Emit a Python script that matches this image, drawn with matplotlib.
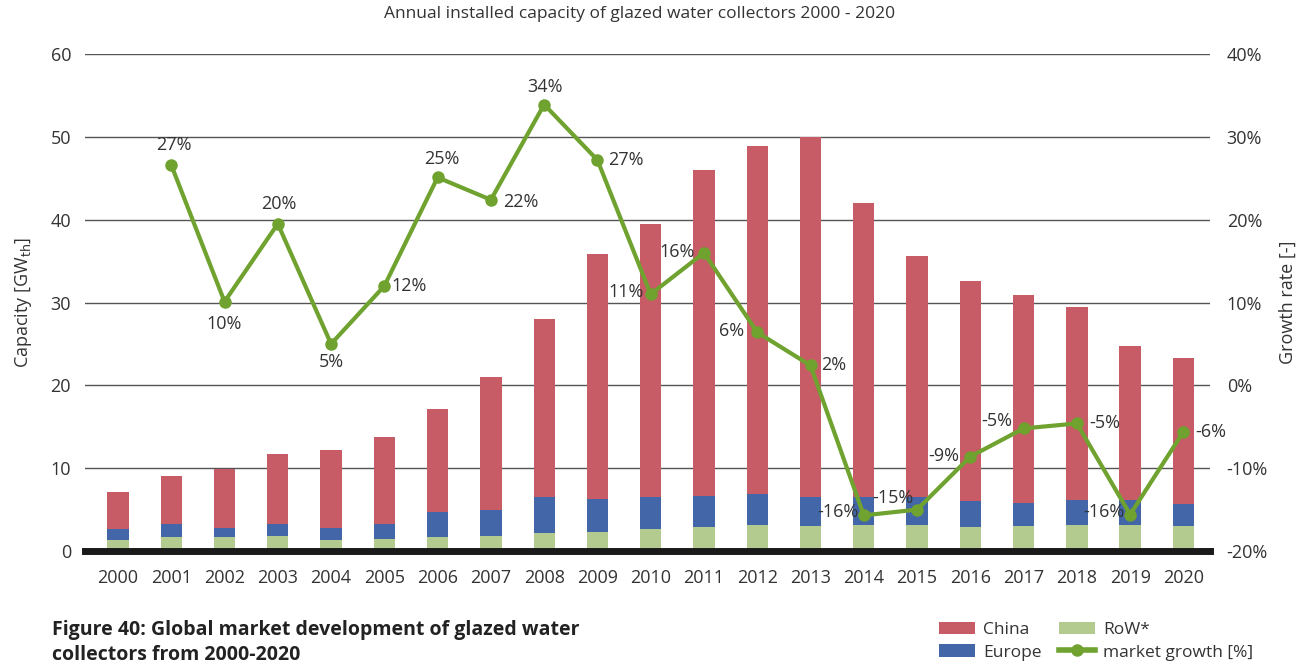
import numpy as np
import matplotlib.pyplot as plt
from matplotlib.lines import Line2D
from matplotlib.patches import Patch

plt.rcParams['font.family'] = ['Open Sans', 'DejaVu Sans']

# Annual installed capacity (GWth) per region and market growth rate (%)
years = [str(y) for y in range(2000, 2021)]
row = [1.3, 1.65, 1.65, 1.8, 1.35, 1.45, 1.65, 1.8, 2.15, 2.3, 2.65, 2.85, 3.15,
       3.0, 3.15, 3.15, 2.85, 3.0, 3.15, 3.15, 3.0]
europe = [1.35, 1.65, 1.15, 1.5, 1.45, 1.85, 3.0, 3.2, 4.35, 4.0, 3.85, 3.85, 3.7,
          3.5, 3.35, 3.35, 3.15, 2.85, 3.05, 3.05, 2.7]
china = [4.45, 5.75, 7.1, 8.4, 9.4, 10.5, 12.45, 16.0, 21.5, 29.5, 33.0, 39.3, 42.05,
         43.5, 35.5, 29.1, 26.6, 25.05, 23.2, 18.5, 17.6]
growth_years = years[1:]
growth = [26.6, 10.1, 19.5, 5.0, 12.0, 25.1, 22.4, 33.9, 27.2, 11.0, 16.0, 6.4, 2.4,
          -15.7, -15.0, -8.6, -5.2, -4.6, -15.6, -5.6]

# label offsets (pixels) for the growth values
label_offsets = [(3, 20), (0, -22), (1, 20), (0, -18), (25, 0), (4, 18), (30, -2),
                 (1, 18), (28, 0), (-25, 2), (-27, 1), (-26, 1), (23, 0), (-26, 3),
                 (-24, 12), (-27, 1), (-27, 7), (28, 0), (-26, 3), (27, 0)]

c_china = '#C75C66'
c_europe = '#4366A8'
c_row = '#B3CB8F'
c_line = '#6FA22F'
txt = '#333333'
fs = 13

fig = plt.figure(figsize=(13.11, 6.65), dpi=100)
ax = fig.add_axes([0.0648, 0.1714, 0.8582, 0.7474])
ax2 = ax.twinx()

x = np.arange(len(years))
w = 0.40
ax.bar(x, row, w, color=c_row, zorder=2)
ax.bar(x, europe, w, bottom=row, color=c_europe, zorder=2)
ax.bar(x, china, w, bottom=np.array(row) + np.array(europe), color=c_china, zorder=2)

ax.set_ylim(0, 60)
ax.set_xlim(-0.62, 20.5)
ax.set_yticks(range(0, 61, 10))
ax.yaxis.grid(True, color='#555555', linewidth=1.0, zorder=0)
ax.set_axisbelow(True)
ax.axhline(0, color='#1a1a1a', linewidth=5, zorder=3, clip_on=False)

ax.set_xticks(x)
ax.set_xticklabels(years)
ax.tick_params(axis='x', length=0, pad=13, labelsize=fs, colors=txt)
ax.tick_params(axis='y', length=0, pad=10, labelsize=fs, colors=txt)
for s in ax.spines.values():
    s.set_visible(False)
ax.set_ylabel('Capacity [GW$_{\\mathrm{th}}$]', fontsize=fs, color=txt, labelpad=12)

# growth line on the secondary axis
gx = x[1:]
ax2.plot(gx, growth, color=c_line, linewidth=3, marker='o', markersize=8, zorder=5)
ax2.set_ylim(-20, 40)
ax2.set_yticks(range(-20, 41, 10))
ax2.set_yticklabels([f'{v}%' for v in range(-20, 41, 10)])
ax2.tick_params(axis='y', length=0, pad=12, labelsize=fs, colors=txt)
for s in ax2.spines.values():
    s.set_visible(False)
ax2.set_ylabel('Growth rate [-]', fontsize=fs, color=txt, labelpad=8)

for xi, v, (dx, dy) in zip(gx, growth, label_offsets):
    ax2.annotate(f'{round(v)}%', (xi, v), xytext=(dx, dy), textcoords='offset pixels',
                 ha='center', va='center', fontsize=fs, color=txt, zorder=6)

fig.text(0.4875, 0.979, 'Annual installed capacity of glazed water collectors 2000 - 2020',
         ha='center', va='center', fontsize=12.5, color=txt)

fig.text(0.040, 0.034, 'Figure 40: Global market development of glazed water\ncollectors from 2000-2020',
         ha='left', va='center', fontsize=14, fontweight='bold', color='#222222',
         linespacing=1.3)

handles = [Patch(facecolor=c_china, label='China'),
           Patch(facecolor=c_europe, label='Europe'),
           Patch(facecolor=c_row, label='RoW*'),
           Line2D([0], [0], color=c_line, linewidth=4, marker='o', markersize=8,
                  label='market growth [%]')]
leg = fig.legend(handles=handles, ncol=2, loc='center left', bbox_to_anchor=(0.704, 0.036),
                 frameon=False, fontsize=12.5, handlelength=2.1, handleheight=0.75,
                 columnspacing=1.0, labelspacing=0.35, handletextpad=0.45)
for t in leg.get_texts():
    t.set_color(txt)

fig.savefig('out.png', dpi=100)
